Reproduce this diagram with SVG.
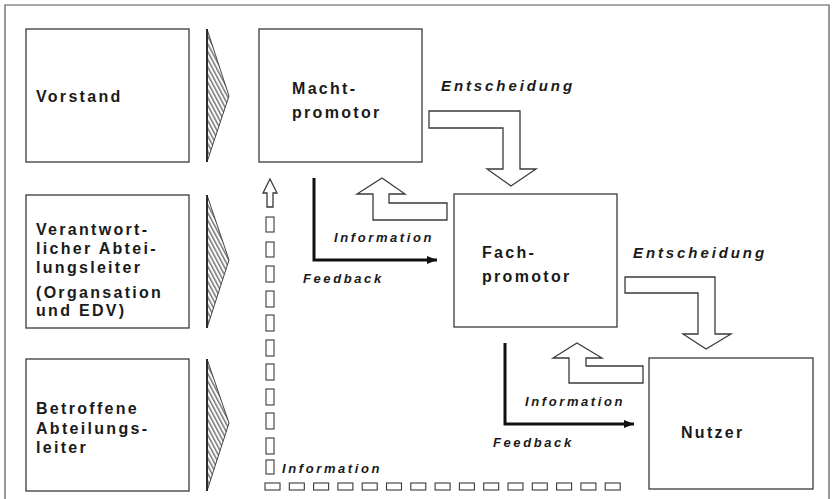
<svg xmlns="http://www.w3.org/2000/svg" width="834" height="499" viewBox="0 0 834 499">
<style>
.box{fill:#fff;stroke:#3a3a3a;stroke-width:1.3}
.lbl{font-family:"Liberation Sans",Arial,sans-serif;font-weight:bold;font-size:16px;letter-spacing:2.3px;fill:#1a1a1a}
.it{font-family:"Liberation Sans",Arial,sans-serif;font-weight:bold;font-style:italic;font-size:13px;letter-spacing:2.6px;fill:#1a1a1a}
.ent{font-size:15px;letter-spacing:2.9px}
.hollow{fill:#fff;stroke:#3a3a3a;stroke-width:1.3;stroke-linejoin:miter}
.dash{fill:#fff;stroke:#3a3a3a;stroke-width:1.1}
.fb{fill:none;stroke:#111;stroke-width:3}
.tri{fill:url(#hatch);stroke:#333;stroke-width:0.9}
</style>
<defs>
<pattern id="hatch" patternUnits="userSpaceOnUse" width="3.6" height="3.6" patternTransform="rotate(-28)">
<rect width="3.6" height="3.6" fill="#fff"/>
<line x1="0.8" y1="0" x2="0.8" y2="3.6" stroke="#333" stroke-width="1"/>
</pattern>
<marker id="ah" markerWidth="10" markerHeight="8" refX="10" refY="4" orient="auto" markerUnits="userSpaceOnUse">
<path d="M0,0 L10,4 L0,8 Z" fill="#111"/>
</marker>
</defs>
<rect width="834" height="499" fill="#fff"/>
<path d="M5,499 V5 H829 V499" fill="none" stroke="#555" stroke-width="1.2"/>

<g id="vorstand">
<rect class="box" x="26" y="29" width="163" height="133"/>
<text class="lbl" x="36" y="102">Vorstand</text>
</g>
<g id="abteilungsleiter">
<rect class="box" x="26" y="195" width="163" height="133"/>
<text class="lbl" x="36" y="235">Verantwort-</text>
<text class="lbl" x="36" y="254">licher Abtei-</text>
<text class="lbl" x="36" y="273">lungsleiter</text>
<text class="lbl" x="36" y="298">(Organsation</text>
<text class="lbl" x="36" y="316">und EDV)</text>
</g>
<g id="betroffene">
<rect class="box" x="26" y="359" width="163" height="132"/>
<text class="lbl" x="36" y="414">Betroffene</text>
<text class="lbl" x="36" y="434">Abteilungs-</text>
<text class="lbl" x="36" y="453">leiter</text>
</g>
<g id="hatch-arrows">
<path class="tri" d="M207,29 L229,96 L207,162 Z"/>
<path class="tri" d="M207,195 L229,260 L207,328 Z"/>
<path class="tri" d="M207,359 L229,423 L207,491 Z"/>
<line x1="207" y1="29" x2="207" y2="162" stroke="#222" stroke-width="1.8"/>
<line x1="207" y1="195" x2="207" y2="328" stroke="#222" stroke-width="1.8"/>
<line x1="207" y1="359" x2="207" y2="491" stroke="#222" stroke-width="1.8"/>
</g>
<g id="machtpromotor">
<rect class="box" x="259" y="29" width="163" height="133"/>
<text class="lbl" x="292" y="94">Macht-</text>
<text class="lbl" x="292" y="118">promotor</text>
</g>
<g id="fachpromotor">
<rect class="box" x="454" y="194" width="163" height="133"/>
<text class="lbl" x="482" y="258">Fach-</text>
<text class="lbl" x="482" y="282">promotor</text>
</g>
<g id="nutzer">
<rect class="box" x="649" y="358" width="164" height="131"/>
<text class="lbl" x="681" y="438">Nutzer</text>
</g>

<g id="connectors">
<path class="hollow" d="M429,111 H520 V169 H536 L511,186 L487,169 H503 V128 H429 Z"/>
<path class="hollow" d="M625,277 H715 V334 H731 L706,349 L683,334 H698 V293 H625 Z"/>
<path class="hollow" d="M382,178 L405,194 H389 V203 H447 V220 H373 V194 H357 Z"/>
<path class="hollow" d="M577,343 L602,358 H586 V366 H643 V383 H569 V358 H553 Z"/>
<path class="fb" d="M314,178 V260 H437" marker-end="url(#ah)"/>
<path class="fb" d="M505,343 V424 H634" marker-end="url(#ah)"/>
<path class="hollow" d="M270,179 L277,193 H273 V207 H267 V193 H263 Z"/>
<g class="dash">
<rect x="266" y="217" width="8" height="15"/>
<rect x="266" y="242" width="8" height="15"/>
<rect x="266" y="266" width="8" height="16"/>
<rect x="266" y="291" width="8" height="16"/>
<rect x="266" y="315" width="8" height="16"/>
<rect x="266" y="340" width="8" height="16"/>
<rect x="266" y="364" width="8" height="16"/>
<rect x="266" y="389" width="8" height="16"/>
<rect x="266" y="413" width="8" height="16"/>
<rect x="266" y="438" width="8" height="16"/>
<rect x="266" y="460" width="8" height="14"/>
<rect x="265" y="483" width="15" height="7"/>
<rect x="289.3" y="483" width="15" height="7"/>
<rect x="313.6" y="483" width="15" height="7"/>
<rect x="337.9" y="483" width="15" height="7"/>
<rect x="362.2" y="483" width="15" height="7"/>
<rect x="386.5" y="483" width="15" height="7"/>
<rect x="410.8" y="483" width="15" height="7"/>
<rect x="435.1" y="483" width="15" height="7"/>
<rect x="459.4" y="483" width="15" height="7"/>
<rect x="483.7" y="483" width="15" height="7"/>
<rect x="508" y="483" width="15" height="7"/>
<rect x="532.3" y="483" width="15" height="7"/>
<rect x="556.6" y="483" width="15" height="7"/>
<rect x="580.9" y="483" width="15" height="7"/>
<rect x="605.2" y="483" width="15" height="7"/>
</g>
<text class="it ent" x="441" y="91">Entscheidung</text>
<text class="it ent" x="633" y="258">Entscheidung</text>
<text class="it" x="334" y="242">Information</text>
<text class="it" x="303" y="283">Feedback</text>
<text class="it" x="525" y="406">Information</text>
<text class="it" x="493" y="447">Feedback</text>
<text class="it" x="282" y="473">Information</text>
</g>
</svg>
